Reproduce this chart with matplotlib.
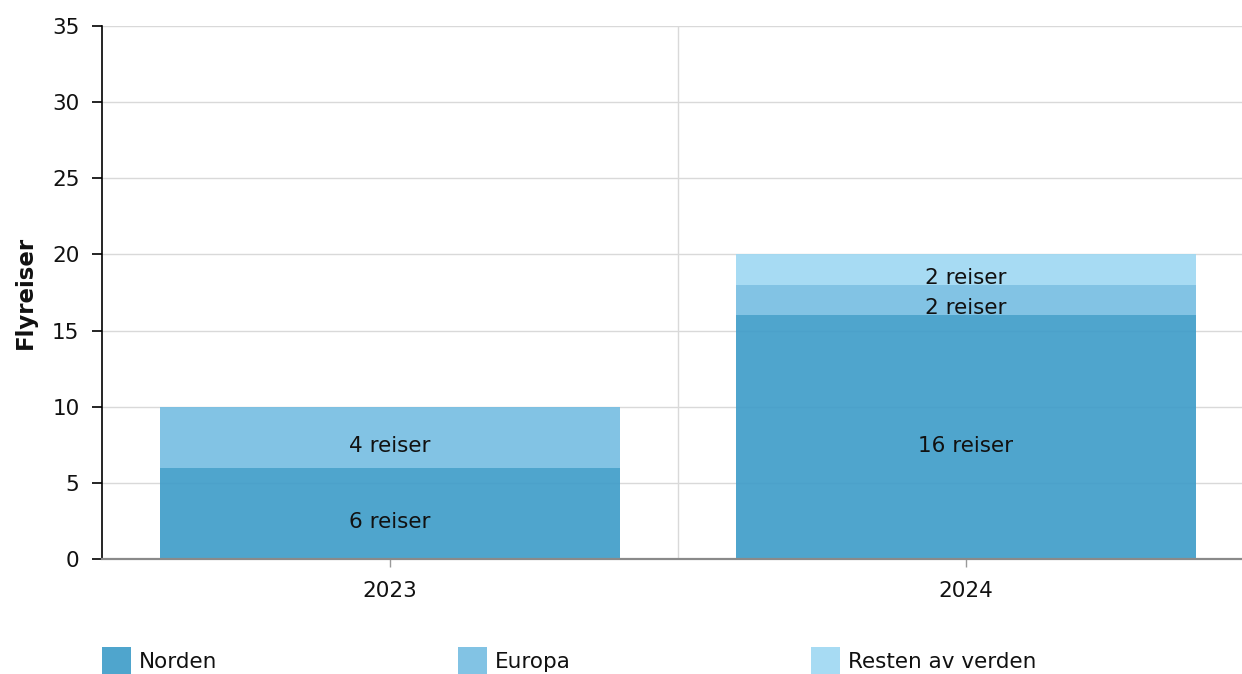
import matplotlib
matplotlib.use("Agg")
import matplotlib.pyplot as plt
from matplotlib.patches import Rectangle
import numpy as np

# data
years = ["2023", "2024"]
series = ["Norden", "Europa", "Resten av verden"]
norden = [6, 16]
europa = [4, 2]
resten = [0, 2]
colors = ["#409dc9", "#77bee2", "#a0d8f2"]
y_ticks = [0, 5, 10, 15, 20, 25, 30, 35]

plt.rcParams['font.family'] = ['DejaVu Sans']
FS = 15.5

fig = plt.figure(figsize=(12.42, 6.74), dpi=100)
ax = fig.add_axes([102/1242, 115/674, 1152/1242, 533/674])

x = np.arange(len(years))
bottom = np.zeros(len(years))
for vals, col in zip([norden, europa, resten], colors):
    vals = np.array(vals, dtype=float)
    ax.bar(x, vals, width=0.8, bottom=bottom, color=col, alpha=0.92,
           linewidth=0, zorder=2)
    for xi, v, b in zip(x, vals, bottom):
        if v > 0:
            ax.annotate(f"{int(v)} reiser", (xi, b + v / 2), xytext=(0, -6),
                        textcoords="offset points", ha="center", va="center",
                        fontsize=FS, color="#111111", zorder=3)
    bottom += vals

ax.set_xlim(-0.5, 1.5)
ax.set_ylim(0, 35)
ax.set_yticks(y_ticks)
ax.set_xticks(x)
ax.set_xticklabels(years)

# grid: horizontal at each tick, vertical at the category border
for yv in y_ticks[1:]:
    ax.axhline(yv, color="#d9d9d9", lw=1, zorder=1)
ax.axvline(0.5, color="#d9d9d9", lw=1, zorder=1)

for s in ["top", "right"]:
    ax.spines[s].set_visible(False)
ax.spines["left"].set_color("black")
ax.spines["left"].set_linewidth(1.2)
ax.spines["bottom"].set_color("#8a8a8a")
ax.spines["bottom"].set_linewidth(1.6)
ax.spines["bottom"].set_zorder(4)

ax.tick_params(axis="y", length=7.2, width=1.2, color="black", pad=9,
               labelsize=FS, labelcolor="#111111")
ax.tick_params(axis="x", length=5.8, width=1, color="#9a9a9a", pad=10,
               labelsize=FS, labelcolor="#111111")

fig.text(25/1242, 1 - 292/674, "Flyreiser", rotation=90, ha="center",
         va="center", fontsize=16.5, fontweight="bold", color="#111111")

# legend along the bottom
leg_x = [102, 458, 811]
for lx, name, col in zip(leg_x, series, colors):
    fig.patches.append(Rectangle((lx/1242, 1 - 675/674), 29/1242, 28/674,
                                 transform=fig.transFigure, facecolor=col,
                                 alpha=0.92, edgecolor="none"))
    fig.text((lx + 37)/1242, 1 - 662/674, name, ha="left", va="center",
             fontsize=FS, color="#111111")

fig.savefig("out.png", dpi=100)
